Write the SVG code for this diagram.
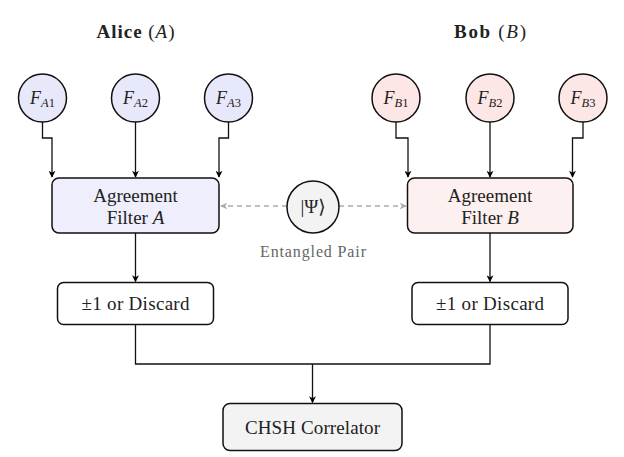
<svg xmlns="http://www.w3.org/2000/svg" width="624" height="457" viewBox="0 0 624 457" font-family="'Liberation Serif', 'Times New Roman', 'DejaVu Serif', serif">
<defs>
<marker id="ah" viewBox="0 0 10 10" refX="9" refY="5" markerWidth="7" markerHeight="7" markerUnits="userSpaceOnUse" orient="auto">
<path d="M0,0 L10,5 L0,10 L3,5 Z" fill="#000"/>
</marker>
<marker id="ahg" viewBox="0 0 10 10" refX="9" refY="5" markerWidth="7" markerHeight="7" markerUnits="userSpaceOnUse" orient="auto">
<path d="M0,0 L10,5 L0,10 L3,5 Z" fill="#aaa"/>
</marker>
<style>
text{fill:#222;text-anchor:middle}
.t{font-size:19px}
.ti{font-size:18px}
.tt{font-size:19px}
.it{font-style:italic}
.sub{font-size:12.5px}
.fa{fill:#e8e8fb;stroke:#111;stroke-width:1.5}
.fb{fill:#fde6e6;stroke:#111;stroke-width:1.5}
.ba{fill:#eeeefc;stroke:#111;stroke-width:1.5}
.bb{fill:#fdf0f0;stroke:#111;stroke-width:1.5}
.bw{fill:#fff;stroke:#111;stroke-width:1.5}
.bg{fill:#f3f3f3;stroke:#111;stroke-width:1.5}
.c{fill:none;stroke:#111;stroke-width:1.3}
.d{fill:none;stroke:#aaa;stroke-width:1.3;stroke-dasharray:5 4}
</style>
</defs>

<g id="title-alice"><text class="tt" x="135.5" y="38" textLength="78"><tspan font-weight="bold">Alice</tspan> (<tspan class="it">A</tspan>)</text></g>
<g id="title-bob"><text class="tt" x="490" y="38" textLength="72"><tspan font-weight="bold">Bob</tspan> (<tspan class="it">B</tspan>)</text></g>

<g id="connectors">
<path class="c" d="M42.5,122 V138 H52 V177" marker-end="url(#ah)"/>
<path class="c" d="M135.5,122 V177" marker-end="url(#ah)"/>
<path class="c" d="M228.5,122 V138 H219 V177" marker-end="url(#ah)"/>
<path class="c" d="M396,122 V138 H408 V177" marker-end="url(#ah)"/>
<path class="c" d="M490,122 V177" marker-end="url(#ah)"/>
<path class="c" d="M583,122 V138 H572.5 V177" marker-end="url(#ah)"/>
<path class="d" d="M287,206 H221" marker-end="url(#ahg)"/>
<path class="d" d="M339,206 H406" marker-end="url(#ahg)"/>
<path class="c" d="M135.5,233 V281.5" marker-end="url(#ah)"/>
<path class="c" d="M490,233 V281.5" marker-end="url(#ah)"/>
<path class="c" d="M135.5,324.5 V364 H490 V324.5"/>
<path class="c" d="M312.5,364 V402.5" marker-end="url(#ah)"/>
</g>

<g id="FA1"><circle class="fa" cx="42.5" cy="98" r="24"/><text class="ti" x="42.5" y="104"><tspan class="it">F</tspan><tspan class="sub" dy="3"><tspan class="it">A</tspan>1</tspan></text></g>
<g id="FA2"><circle class="fa" cx="135.5" cy="98" r="24"/><text class="ti" x="135.5" y="104"><tspan class="it">F</tspan><tspan class="sub" dy="3"><tspan class="it">A</tspan>2</tspan></text></g>
<g id="FA3"><circle class="fa" cx="228.5" cy="98" r="24"/><text class="ti" x="228.5" y="104"><tspan class="it">F</tspan><tspan class="sub" dy="3"><tspan class="it">A</tspan>3</tspan></text></g>
<g id="FB1"><circle class="fb" cx="396" cy="98" r="24"/><text class="ti" x="396" y="104"><tspan class="it">F</tspan><tspan class="sub" dy="3"><tspan class="it">B</tspan>1</tspan></text></g>
<g id="FB2"><circle class="fb" cx="490" cy="98" r="24"/><text class="ti" x="490" y="104"><tspan class="it">F</tspan><tspan class="sub" dy="3"><tspan class="it">B</tspan>2</tspan></text></g>
<g id="FB3"><circle class="fb" cx="583" cy="98" r="24"/><text class="ti" x="583" y="104"><tspan class="it">F</tspan><tspan class="sub" dy="3"><tspan class="it">B</tspan>3</tspan></text></g>

<g id="filterA"><rect class="ba" x="52" y="178" width="167" height="55" rx="7"/><text class="t" x="135.5" y="202">Agreement</text><text class="t" x="135.5" y="223.5">Filter <tspan class="it">A</tspan></text></g>
<g id="filterB"><rect class="bb" x="407.5" y="178" width="165.5" height="55" rx="7"/><text class="t" x="490" y="202">Agreement</text><text class="t" x="490" y="223.5">Filter <tspan class="it">B</tspan></text></g>

<g id="psi"><circle class="bg" cx="313" cy="207" r="26"/><text class="t" x="313" y="213">|Ψ⟩</text><text x="313" y="257" textLength="106" style="font-size:16px;fill:#666">Entangled Pair</text></g>

<g id="outA"><rect class="bw" x="57.5" y="282.5" width="156" height="42" rx="6"/><text class="t" x="135.5" y="309.5" textLength="108">±1 or Discard</text></g>
<g id="outB"><rect class="bw" x="412" y="282.5" width="156" height="42" rx="6"/><text class="t" x="490" y="309.5" textLength="108">±1 or Discard</text></g>

<g id="chsh"><rect class="bg" x="223" y="403.5" width="179" height="47" rx="7"/><text class="t" x="312.5" y="433.5" textLength="135">CHSH Correlator</text></g>
</svg>
